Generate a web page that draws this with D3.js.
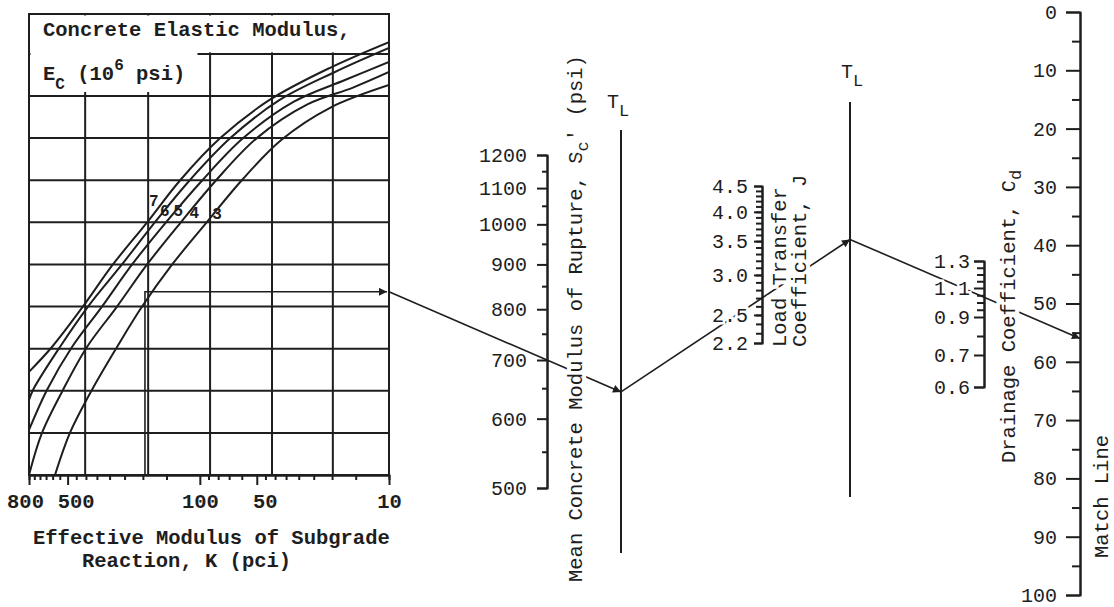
<!DOCTYPE html>
<html lang="en">
<head>
<meta charset="UTF-8" />
<title>Concrete slab nomograph</title>
<style>
  body { margin: 0; background: #fff; }
  svg { display: block; font-family: "Liberation Mono", "DejaVu Sans Mono", monospace; }
</style>
</head>
<body>
<script src="https://cdn.jsdelivr.net/npm/d3@7"></script>
<script>

// ---- data ----
// subgrade reaction K (pci), log axis
var kLabels = [800, 500, 100, 50, 10];
var kMinor = [750, 700, 650, 600, 550, 450, 400, 350, 300, 250, 200, 150,
              90, 80, 70, 60, 45, 40, 35, 30, 25, 20, 15];

// Ec curves, points as [K, grid row]
var ecNames = ["7", "6", "5", "4", "3"];
var ec7 = [[800,2.45],[605,3.04],[415,4.0],[288,5.0],[190,6.0],[127,7.0],[78,8.0],[43,8.9],[20.5,9.67],[10,10.28]];
var ec6 = [[800,1.78],[762,2.02],[549,3.04],[390,4.0],[258,5.0],[173,6.0],[113,7.0],[69,8.0],[38,8.9],[19.3,9.57],[10,10.14]];
var ec5 = [[800,1.07],[643,2.02],[474,3.04],[329,4.0],[228,5.0],[151,6.0],[97,7.0],[59,8.0],[32,8.86],[17.1,9.38],[10,9.81]];
var ec4 = [[800,0],[683,1.0],[529,2.02],[395,3.04],[274,4.0],[190,5.0],[126,6.0],[82,7.0],[50,8.0],[27,8.8],[15.5,9.2],[10,9.57]];
var ec3 = [[583,0],[486,1.0],[372,2.02],[274,3.04],[202,4.0],[140,5.0],[92,6.0],[60,7.0],[37,7.96],[20.5,8.72],[10,9.26]];
var ecLabelAt = [[175,6.53],[153,6.29],[130,6.29],[107,6.25],[81,6.22]];

// grid of the turning chart
var gridRows = [0,1,2,3,4,5,6,7,8,9,10];
var gridCols = [0, 0.156, 0.331, 0.503, 0.675, 0.844, 1];

// scales on the right
var scLabels = [1200, 1100, 1000, 900, 800, 700, 600, 500];
var scMinor = [1150, 1050, 950, 850, 750, 650, 550];
var jLabels = [4.5, 4.0, 3.5, 3.0, 2.5, 2.2];
var jMinor = d3.range(23, 45).map(function(d) { return d / 10; });
var cdLabels = [1.3, 1.1, 0.9, 0.7, 0.6];
var cdMinor = [1.25, 1.2, 1.15, 1.05, 1.0, 0.95, 0.8];
var matchLabels = [0,10,20,30,40,50,60,70,80,90,100];
var matchMinor = [5,15,25,35,45,55,65,75,85,95];

// worked example
var kGuide = 195;
var turnRow = 4.35;
var scGuide = 700;
var jGuide = 2.7;
var matchGuide = 56;

// ---- layout ----
var w = 1114, h = 607;
var ink = "#1e1e1e";
var chart = { left: 29, right: 389, top: 14, bottom: 475 };
var scX = 547, tl1X = 621, jX = 762, tl2X = 850, cdX = 984, matchX = 1080;

var svg = d3.select("body")
            .append("svg")
            .attr("width", w)
            .attr("height", h);

svg.append("rect").attr("width", w).attr("height", h).attr("fill", "#fff");

var defs = svg.append("defs");
defs.append("marker")
    .attr("id", "arrow")
    .attr("viewBox", "0 0 10 10")
    .attr("refX", 10).attr("refY", 5)
    .attr("markerUnits", "userSpaceOnUse")
    .attr("markerWidth", 11).attr("markerHeight", 8)
    .attr("orient", "auto")
    .append("path")
    .attr("d", "M0,0L10,5L0,10z")
    .attr("fill", ink);

defs.append("clipPath").attr("id", "chartClip")
    .append("rect")
    .attr("x", chart.left).attr("y", chart.top)
    .attr("width", chart.right - chart.left)
    .attr("height", chart.bottom - chart.top);

var kScale = d3.scaleLog().domain([800, 10]).range([chart.left, chart.right]);
var rowScale = d3.scaleLinear().domain([0, 9]).range([chart.bottom, 96]);
var colScale = d3.scaleLinear().domain([0, 1]).range([chart.left, chart.right]);

var scScale = d3.scaleLog().domain([500, 1200]).range([488, 155]);
var jScale = d3.scaleLog().domain([2.2, 4.5]).range([343, 186]);
var cdScale = d3.scaleLinear().domain([0.6, 0.7, 0.9, 1.1, 1.3]).range([387, 355, 317, 288, 261]);
var matchScale = d3.scaleLinear().domain([0, 100]).range([12, 595]);

// ---- turning chart ----
var left = svg.append("g");

left.selectAll(".row")
    .data(gridRows)
    .enter().append("line")
    .attr("x1", chart.left).attr("x2", chart.right)
    .attr("y1", function(d) { return rowScale(d); })
    .attr("y2", function(d) { return rowScale(d); })
    .attr("stroke", ink).attr("stroke-width", 2);

left.selectAll(".col")
    .data(gridCols)
    .enter().append("line")
    .attr("x1", function(d) { return colScale(d); })
    .attr("x2", function(d) { return colScale(d); })
    .attr("y1", chart.top).attr("y2", chart.bottom)
    .attr("stroke", ink).attr("stroke-width", 2);

// white title panel over the top of the grid
left.append("rect")
    .attr("x", chart.left + 1.5).attr("y", chart.top + 1.5)
    .attr("width", chart.right - chart.left - 3)
    .attr("height", rowScale(10) - chart.top - 3)
    .attr("fill", "#fff");
left.append("rect")
    .attr("x", chart.left + 1.5).attr("y", rowScale(10) - 4)
    .attr("width", 196 - chart.left)
    .attr("height", 92 - rowScale(10) + 4)
    .attr("fill", "#fff");

left.append("rect")
    .attr("x", chart.left).attr("y", chart.top)
    .attr("width", chart.right - chart.left)
    .attr("height", chart.bottom - chart.top)
    .attr("fill", "none").attr("stroke", ink).attr("stroke-width", 2);

var curveLine = d3.line()
                  .x(function(d) { return kScale(d[0]); })
                  .y(function(d) { return rowScale(d[1]); })
                  .curve(d3.curveCatmullRom.alpha(0.5));

left.append("g")
    .attr("clip-path", "url(#chartClip)")
    .selectAll("path")
    .data([ec7, ec6, ec5, ec4, ec3])
    .enter().append("path")
    .attr("d", curveLine)
    .attr("fill", "none")
    .attr("stroke", ink)
    .attr("stroke-width", 2);

left.selectAll(".eclab")
    .data(ecNames)
    .enter().append("text")
    .attr("x", function(d, i) { return kScale(ecLabelAt[i][0]); })
    .attr("y", function(d, i) { return rowScale(ecLabelAt[i][1]) + 6; })
    .attr("text-anchor", "middle")
    .attr("font-size", 16)
    .attr("font-weight", "bold")
    .attr("fill", ink)
    .text(function(d) { return d; });

var title = left.append("g")
                .attr("font-size", 20.5)
                .attr("font-weight", "bold")
                .attr("fill", ink);
title.append("text").attr("x", 43).attr("y", 36).text("Concrete Elastic Modulus,");
var ecTitle = title.append("text").attr("x", 43).attr("y", 80);
ecTitle.append("tspan").text("E");
ecTitle.append("tspan").attr("dy", 9).attr("font-size", 16).text("C");
ecTitle.append("tspan").attr("dy", -9).text(" (10");
ecTitle.append("tspan").attr("dy", -10).attr("font-size", 16).text("6");
ecTitle.append("tspan").attr("dy", 10).text(" psi)");

// K axis
var kAxis = left.append("g")
                .attr("transform", "translate(0," + chart.bottom + ")");
kAxis.call(d3.axisBottom(kScale).tickValues(kMinor).tickSize(5).tickFormat(""));
kAxis.append("g").call(d3.axisBottom(kScale).tickValues(kLabels).tickSize(10)
                       .tickSizeOuter(0).tickPadding(8).tickFormat(d3.format("d")));
kAxis.selectAll("path, line").attr("stroke", ink).attr("stroke-width", 2);
kAxis.selectAll("g").attr("font-family", null).attr("font-size", null);
kAxis.attr("font-family", null).attr("font-size", null);
kAxis.selectAll("text")
     .attr("font-size", 20.5)
     .attr("font-weight", "bold")
     .attr("fill", ink)
     .attr("dx", function(d) { return d === 800 ? -4 : (d === 500 || d === 50) ? 8 : 0; });

var kTitle = left.append("g")
                 .attr("font-size", 20.5)
                 .attr("font-weight", "bold")
                 .attr("fill", ink);
kTitle.append("text").attr("x", 33).attr("y", 544).text("Effective Modulus of Subgrade");
kTitle.append("text").attr("x", 82).attr("y", 567).text("Reaction, K (pci)");

// ---- worked example path ----
function extend(a, b, x) {
  return [x, a[1] + (b[1] - a[1]) * (x - a[0]) / (b[0] - a[0])];
}
var pFoot = [kScale(kGuide), rowScale(0)];
var pCorner = [kScale(kGuide), rowScale(turnRow)];
var pEdge = [kScale(10), rowScale(turnRow)];
var pSc = [scX, scScale(scGuide)];
var pTl1 = extend(pEdge, pSc, tl1X);
var pJ = [jX, jScale(jGuide)];
var pTl2 = extend(pTl1, pJ, tl2X);
var pMatch = [matchX, matchScale(matchGuide)];

var guide = svg.append("g")
               .attr("fill", "none")
               .attr("stroke", ink)
               .attr("stroke-width", 1.6);
var seg = d3.line();
guide.append("path").attr("d", seg([pFoot, pCorner, [pEdge[0] - 2, pEdge[1]]])).attr("marker-end", "url(#arrow)");
guide.append("path").attr("d", seg([pEdge, pTl1])).attr("marker-end", "url(#arrow)");
guide.append("path").attr("d", seg([pTl1, pTl2])).attr("marker-end", "url(#arrow)");
guide.append("path").attr("d", seg([pTl2, pMatch])).attr("marker-end", "url(#arrow)");

// ---- pivot lines T_L ----
function pivot(x, y1, y2, ty, tx) {
  svg.append("line")
     .attr("x1", x).attr("x2", x)
     .attr("y1", y1).attr("y2", y2)
     .attr("stroke", ink).attr("stroke-width", 2);
  var t = svg.append("text")
             .attr("x", tx).attr("y", ty)
             .attr("font-size", 20)
             .attr("fill", ink);
  t.append("tspan").text("T");
  t.append("tspan").attr("dy", 8).attr("font-size", 17).text("L");
}
pivot(tl1X, 130, 553, 108, 607);
pivot(tl2X, 102, 497, 78, 841);

// ---- vertical scales ----
function scaleAxis(x, scale, labels, minor, major, small, pad, fmt) {
  var g = svg.append("g").attr("transform", "translate(" + x + ",0)");
  g.call(d3.axisLeft(scale).tickValues(minor).tickSize(small).tickSizeOuter(0).tickFormat(""));
  g.append("g").call(d3.axisLeft(scale).tickValues(labels).tickSize(major)
                       .tickSizeOuter(major).tickPadding(pad).tickFormat(fmt));
  g.selectAll("path, line").attr("stroke", ink).attr("stroke-width", 2);
  g.selectAll("g").attr("font-family", null).attr("font-size", null);
  g.attr("font-family", null).attr("font-size", null);
  g.selectAll("text")
   .attr("font-size", 20)
   .attr("fill", ink)
   .attr("stroke", "#fff")
   .attr("stroke-width", 5)
   .attr("paint-order", "stroke");
  return g;
}
scaleAxis(scX, scScale, scLabels, scMinor, 10, 5, 10, d3.format("d"));
scaleAxis(jX, jScale, jLabels, jMinor, 8, 6, 6, d3.format(".1f"));
scaleAxis(cdX, cdScale, cdLabels, cdMinor, 10, 7, 4, d3.format(".1f"));
scaleAxis(matchX, matchScale, matchLabels, matchMinor, 14, 8, 9, d3.format("d"));

// rotated axis titles
function sideTitle(x, y) {
  return svg.append("text")
            .attr("transform", "translate(" + x + "," + y + ") rotate(-90)")
            .attr("font-size", 20.5)
            .attr("fill", ink)
            .attr("stroke", "#fff")
            .attr("stroke-width", 8)
            .attr("paint-order", "stroke");
}
var scTitle = sideTitle(582, 582);
scTitle.append("tspan").text("Mean Concrete Modulus of Rupture, S");
scTitle.append("tspan").attr("dy", 6).attr("font-size", 17).text("c");
scTitle.append("tspan").attr("dy", -6).text("\u2032 (psi)");

sideTitle(786, 347).text("Load Transfer");
sideTitle(806, 347).text("Coefficient, J");

var cdTitle = sideTitle(1015, 463);
cdTitle.append("tspan").text("Drainage Coefficient, C");
cdTitle.append("tspan").attr("dy", 6).attr("font-size", 17).text("d");

sideTitle(1108, 558).text("Match Line");

</script>
</body>
</html>
